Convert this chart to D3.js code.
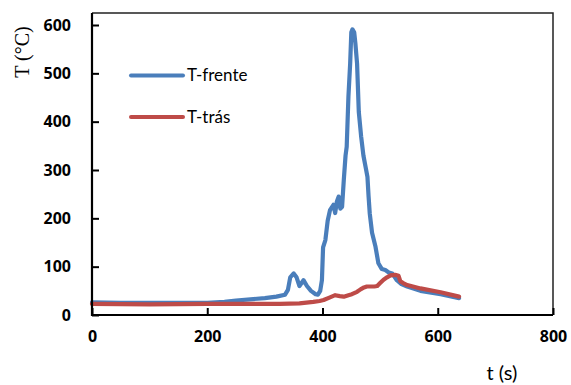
<!DOCTYPE html>
<html>
<head>
<meta charset="utf-8">
<script src="https://cdn.jsdelivr.net/npm/d3@7"></script>
<style>
  body { margin: 0; background: #fff; }
  svg { display: block; }
</style>
</head>
<body>
<div id="chart"></div>
<script>
// T-frente (front thermocouple): time (s) and temperature (°C)
var tFront = [0, 50, 100, 150, 200, 230, 250, 280, 300, 320, 335, 340, 344, 350, 355, 360, 367, 373, 380, 388, 392, 396, 399, 401, 405, 409, 413, 419, 422, 425, 428, 431, 434, 437, 440, 442, 445, 448, 450, 452, 455, 457, 460, 463, 467, 471, 475, 478, 480, 482, 486, 492, 497, 503, 509, 515, 521, 529, 537, 547, 570, 605, 637];
var vFront = [26, 25, 25, 25, 25, 27, 30, 33, 35, 38, 42, 52, 78, 86, 78, 60, 72, 60, 50, 43, 42, 50, 72, 140, 155, 195, 217, 228, 211, 235, 245, 220, 224, 280, 330, 348, 452, 520, 585, 591, 585, 563, 520, 420, 370, 330, 305, 286, 245, 210, 170, 141, 107, 95, 93, 88, 86, 72, 64, 59, 50, 43, 35];

// T-trás (back thermocouple)
var tBack = [0, 100, 200, 300, 326, 360, 384, 395, 402, 412, 422, 430, 437, 445, 451, 460, 466, 472, 477, 490, 495, 500, 506, 512, 518, 526, 532, 535, 540, 547, 570, 605, 637];
var vBack = [23, 22, 23, 23, 23, 24, 27, 29, 31, 36, 41, 39, 38, 41, 43, 48, 53, 57, 59, 59, 60, 66, 73, 78, 82, 83, 81, 70, 66, 62, 55, 47, 38];

var xTicks = [0, 200, 400, 600, 800];
var yTicks = [0, 100, 200, 300, 400, 500, 600];

var seriesNames = ["T-frente", "T-trás"];
var colors = ["#4a7ebb", "#be4b48"];

var width = 571, height = 385;
var plot = {left: 92, right: 553, top: 13, bottom: 315};

var svg = d3.select("#chart").append("svg")
    .attr("width", width)
    .attr("height", height);

var x = d3.scaleLinear().domain([0, 800]).range([plot.left, plot.right]);
// top of the frame sits a little above 600
var y = d3.scaleLinear().domain([0, 600]).range([plot.bottom, 25]);

// frame (top and right sides)
svg.append("path")
    .attr("d", "M" + plot.left + "," + plot.top + "H" + plot.right + "V" + plot.bottom)
    .attr("fill", "none")
    .attr("stroke", "#222")
    .attr("stroke-width", 1.5);

// lines
var line = d3.line()
    .x(function(d) { return x(d[0]); })
    .y(function(d) { return y(d[1]); });

var front = d3.zip(tFront, vFront);
var back = d3.zip(tBack, vBack);

[front, back].forEach(function(data, i) {
    svg.append("path")
        .datum(data)
        .attr("d", line)
        .attr("fill", "none")
        .attr("stroke", colors[i])
        .attr("stroke-width", 4.2)
        .attr("stroke-linejoin", "round")
        .attr("stroke-linecap", "round");
});

// axes with ticks pointing inward
var xAxis = d3.axisBottom(x).tickValues(xTicks).tickSizeInner(-7).tickSizeOuter(0).tickPadding(16);
var yAxis = d3.axisLeft(y).tickValues(yTicks).tickSizeInner(-7).tickSizeOuter(0).tickPadding(21);

var gx = svg.append("g")
    .attr("transform", "translate(0," + plot.bottom + ")")
    .call(xAxis);
var gy = svg.append("g")
    .attr("transform", "translate(" + plot.left + ",0)")
    .call(yAxis);

[gx, gy].forEach(function(g) {
    g.select(".domain").remove();
    g.selectAll(".tick line").attr("stroke", "#000").attr("stroke-width", 2);
    g.selectAll(".tick text")
        .attr("fill", "#000")
        .style("font-family", "'Open Sans', sans-serif")
        .style("font-weight", "bold")
        .style("font-size", "16px");
});

// axis lines
svg.append("path")
    .attr("d", "M" + plot.left + "," + plot.top + "V" + plot.bottom + "H" + plot.right)
    .attr("fill", "none")
    .attr("stroke", "#000")
    .attr("stroke-width", 2.2);

// axis titles
svg.append("text")
    .attr("x", 502)
    .attr("y", 380)
    .attr("text-anchor", "middle")
    .style("font-family", "Lato, 'Open Sans', sans-serif")
    .style("font-size", "20px")
    .text("t (s)");

svg.append("text")
    .attr("transform", "translate(29,52) rotate(-90)")
    .attr("text-anchor", "middle")
    .style("font-family", "'Liberation Serif', 'Times New Roman', serif")
    .style("font-size", "20px")
    .text("T (°C)");

// legend
var legend = svg.append("g");
seriesNames.forEach(function(name, i) {
    var ly = 75.5 + i * 41.5;
    legend.append("line")
        .attr("x1", 131).attr("x2", 183)
        .attr("y1", ly).attr("y2", ly)
        .attr("stroke", colors[i])
        .attr("stroke-width", 4)
        .attr("stroke-linecap", "round");
    legend.append("text")
        .attr("x", 187)
        .attr("y", ly)
        .attr("dy", "0.35em")
        .style("font-family", "Lato, 'Open Sans', sans-serif")
        .style("font-size", "17px")
        .text(name);
});
</script>
</body>
</html>
